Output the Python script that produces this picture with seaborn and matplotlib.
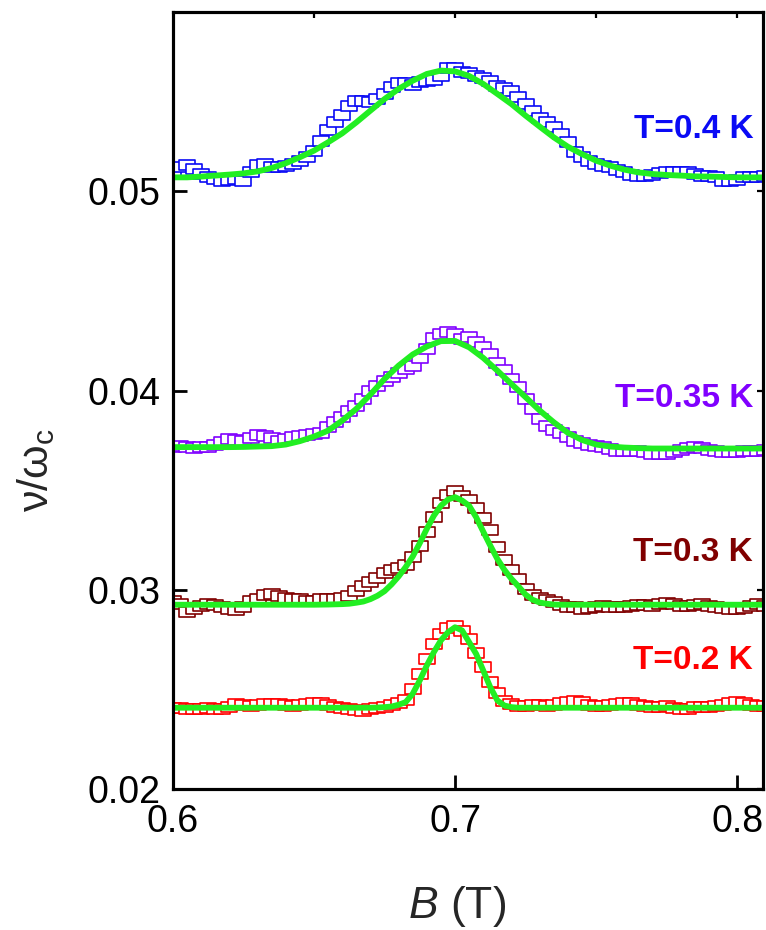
import numpy as np
import pandas as pd
import matplotlib
matplotlib.use("Agg")
import matplotlib.pyplot as plt
import seaborn as sns
from matplotlib.path import Path
from matplotlib import font_manager

# ---------------- data ----------------
B_data = np.round(np.linspace(0.600, 0.810, 85), 4)   # 0.0025 T sampling

y_04 = [0.05100, 0.05120, 0.05134, 0.05112, 0.05087, 0.05070, 0.05060, 0.05054, 0.05057, 0.05062,
        0.05054, 0.05095, 0.05134, 0.05137, 0.05124, 0.05124, 0.05129, 0.05137, 0.05151, 0.05171,
        0.05204, 0.05254, 0.05308, 0.05346, 0.05385, 0.05430, 0.05452, 0.05455, 0.05450, 0.05463,
        0.05488, 0.05522, 0.05542, 0.05544, 0.05535, 0.05547, 0.05555, 0.05559, 0.05580, 0.05619,
        0.05619, 0.05597,
        0.05592, 0.05580, 0.05569, 0.05552, 0.05529, 0.05519, 0.05505, 0.05475, 0.05438, 0.05405,
        0.05368, 0.05346, 0.05325, 0.05288, 0.05246, 0.05196, 0.05171, 0.05154, 0.05137, 0.05129,
        0.05120, 0.05107, 0.05095, 0.05084, 0.05079, 0.05079, 0.05084, 0.05090, 0.05095, 0.05095,
        0.05095, 0.05095, 0.05087, 0.05079, 0.05079, 0.05074, 0.05054, 0.05051, 0.05057, 0.05070,
        0.05070, 0.05074, 0.05079]

y_035 = [0.03716, 0.03722, 0.03719, 0.03712, 0.03716, 0.03719, 0.03729, 0.03741, 0.03757, 0.03752,
         0.03749, 0.03762, 0.03779, 0.03774, 0.03762, 0.03749, 0.03757, 0.03769, 0.03774, 0.03779,
         0.03783, 0.03786, 0.03816, 0.03841, 0.03869, 0.03896, 0.03920, 0.03958, 0.03997, 0.04025,
         0.04050, 0.04070, 0.04087, 0.04109, 0.04125, 0.04164, 0.04209, 0.04264, 0.04284, 0.04293,
         0.04284, 0.04259,
         0.04268, 0.04243, 0.04217, 0.04181, 0.04137, 0.04104, 0.04059, 0.04017, 0.03958, 0.03908,
         0.03858, 0.03824, 0.03803, 0.03786, 0.03769, 0.03749, 0.03736, 0.03729, 0.03724, 0.03719,
         0.03707, 0.03699, 0.03699, 0.03699, 0.03696, 0.03691, 0.03682, 0.03679, 0.03682, 0.03691,
         0.03702, 0.03712, 0.03716, 0.03711, 0.03702, 0.03696, 0.03691, 0.03691, 0.03691, 0.03696,
         0.03699, 0.03699, 0.03702]

y_03 = [0.02946, 0.02930, 0.02888, 0.02905, 0.02921, 0.02930, 0.02926, 0.02916, 0.02905, 0.02896,
        0.02913, 0.02943, 0.02955, 0.02976, 0.02980, 0.02971, 0.02960, 0.02955, 0.02955, 0.02943,
        0.02943, 0.02955, 0.02955, 0.02955, 0.02960, 0.02971, 0.02993, 0.03017, 0.03038, 0.03060,
        0.03083, 0.03100, 0.03110, 0.03126, 0.03167, 0.03222, 0.03289, 0.03364, 0.03435, 0.03478,
        0.03495, 0.03473,
        0.03451, 0.03411, 0.03361, 0.03298, 0.03217, 0.03147, 0.03097, 0.03055, 0.03005, 0.02976,
        0.02960, 0.02950, 0.02938, 0.02926, 0.02916, 0.02913, 0.02904, 0.02909, 0.02916, 0.02921,
        0.02916, 0.02913, 0.02913, 0.02921, 0.02926, 0.02926, 0.02921, 0.02930, 0.02933, 0.02930,
        0.02921, 0.02921, 0.02926, 0.02930, 0.02921, 0.02913, 0.02909, 0.02904, 0.02904, 0.02909,
        0.02921, 0.02930, 0.02921]

y_02 = [0.02408, 0.02408, 0.02403, 0.02401, 0.02403, 0.02408, 0.02404, 0.02404, 0.02411, 0.02428,
        0.02424, 0.02419, 0.02424, 0.02428, 0.02428, 0.02428, 0.02423, 0.02419, 0.02424, 0.02428,
        0.02431, 0.02434, 0.02424, 0.02414, 0.02406, 0.02403, 0.02398, 0.02394, 0.02403, 0.02408,
        0.02414, 0.02423, 0.02431, 0.02448, 0.02503, 0.02578, 0.02654, 0.02726, 0.02776, 0.02807,
        0.02816, 0.02792,
        0.02752, 0.02683, 0.02612, 0.02536, 0.02481, 0.02444, 0.02428, 0.02419, 0.02419, 0.02424,
        0.02424, 0.02419, 0.02424, 0.02431, 0.02436, 0.02441, 0.02436, 0.02424, 0.02419, 0.02419,
        0.02423, 0.02428, 0.02434, 0.02431, 0.02424, 0.02419, 0.02414, 0.02414, 0.02419, 0.02408,
        0.02403, 0.02404, 0.02411, 0.02411, 0.02414, 0.02419, 0.02424, 0.02432, 0.02436, 0.02431,
        0.02424, 0.02419, 0.02419]

# fit curves (green)
B_fit_wide = np.round(np.linspace(0.600, 0.810, 43), 4)   # 0.005 T sampling
fit_04 = [0.05070, 0.05070, 0.05074, 0.05079, 0.05084, 0.05090, 0.05100, 0.05117, 0.05141, 0.05171,
          0.05204, 0.05246, 0.05291, 0.05346, 0.05405, 0.05463, 0.05514, 0.05555, 0.05589, 0.05606,
          0.05602, 0.05579, 0.05539, 0.05489, 0.05438, 0.05380, 0.05325, 0.05271, 0.05224, 0.05187,
          0.05154, 0.05129, 0.05109, 0.05095, 0.05087, 0.05082, 0.05079, 0.05075, 0.05074, 0.05072,
          0.05070, 0.05070, 0.05070]
fit_035 = [0.03716, 0.03716, 0.03716, 0.03716, 0.03716, 0.03717, 0.03719, 0.03721, 0.03729, 0.03746,
           0.03769, 0.03799, 0.03849, 0.03908, 0.03980, 0.04058, 0.04125, 0.04181, 0.04221, 0.04248,
           0.04249, 0.04217, 0.04164, 0.04100, 0.04033, 0.03967, 0.03900, 0.03841, 0.03788, 0.03752,
           0.03729, 0.03719, 0.03714, 0.03711, 0.03709, 0.03709, 0.03709, 0.03709, 0.03709, 0.03709,
           0.03709, 0.03709, 0.03709]

B_fit_narrow = [0.600, 0.620, 0.640, 0.650, 0.655, 0.660,
                0.6625, 0.665, 0.6675, 0.670, 0.6725, 0.675, 0.6775, 0.680, 0.6825, 0.685,
                0.6875, 0.690, 0.6925, 0.695, 0.6975, 0.700, 0.7025, 0.705, 0.7075, 0.710,
                0.7125, 0.715, 0.7175, 0.720, 0.7225, 0.725, 0.7275, 0.730, 0.7325, 0.735, 0.7375,
                0.740, 0.745, 0.750, 0.760, 0.780, 0.810]
fit_03 = [0.02925, 0.02925, 0.02925, 0.02925, 0.02926, 0.02928,
          0.02930, 0.02935, 0.02941, 0.02953, 0.02970, 0.02993, 0.03027, 0.03067, 0.03114, 0.03167,
          0.03234, 0.03306, 0.03372, 0.03422, 0.03453, 0.03465, 0.03448, 0.03422, 0.03364, 0.03292,
          0.03222, 0.03155, 0.03100, 0.03055, 0.03017, 0.02976, 0.02950, 0.02936, 0.02930, 0.02926, 0.02925,
          0.02925, 0.02925, 0.02925, 0.02925, 0.02925, 0.02925]
fit_02 = [0.02408, 0.02408, 0.02408, 0.02408, 0.02408, 0.02408,
          0.02408, 0.02408, 0.02408, 0.02408, 0.02409, 0.02411, 0.02414, 0.02423, 0.02436, 0.02478,
          0.02545, 0.02620, 0.02687, 0.02746, 0.02787, 0.02812, 0.02796, 0.02737, 0.02678, 0.02595,
          0.02511, 0.02445, 0.02419, 0.02411, 0.02408, 0.02408, 0.02408, 0.02408, 0.02408, 0.02408, 0.02408,
          0.02408, 0.02408, 0.02408, 0.02408, 0.02408, 0.02408]

series_labels = ["T=0.4 K", "T=0.35 K", "T=0.3 K", "T=0.2 K"]
series_colors = ["#0a0af5", "#8000ff", "#800000", "#ff0000"]
label_y = [0.05312, 0.03960, 0.03185, 0.02645]

x_ticks = [0.6, 0.7, 0.8]
x_ticklabels = ["0.6", "0.7", "0.8"]
y_ticks = [0.02, 0.03, 0.04, 0.05]
y_ticklabels = ["0.02", "0.03", "0.04", "0.05"]

# ---------------- style ----------------
sns.set_theme(style="white")
plt.rcParams['font.family'] = ['Liberation Sans', 'DejaVu Sans']
plt.rcParams['mathtext.fontset'] = 'custom'
plt.rcParams['mathtext.rm'] = 'Liberation Sans'
plt.rcParams['mathtext.it'] = 'Liberation Sans:italic'
plt.rcParams['mathtext.bf'] = 'Liberation Sans:bold'


def has_font(name):
    try:
        font_manager.findfont(font_manager.FontProperties(family=name),
                              fallback_to_default=False)
        return True
    except Exception:
        return False


HAS_NARROW = has_font("Liberation Sans Narrow")
NARROW = "Liberation Sans Narrow" if HAS_NARROW else "Liberation Sans"
TICK_FS = 30 if HAS_NARROW else 27
LAB_FS = 27 if HAS_NARROW else 24

GREEN = "#22ee22"
XLIM = (0.6, 0.8092)
YLIM = (0.02, 0.0590)

fig = plt.figure(figsize=(7.66, 9.30), dpi=100)
ax = fig.add_axes([0.2258, 0.1516, 0.7703, 0.8355])

rect = Path([(-1, -0.68), (1, -0.68), (1, 0.68), (-1, 0.68), (-1, -0.68)],
            [Path.MOVETO, Path.LINETO, Path.LINETO, Path.LINETO, Path.CLOSEPOLY])

data_series = [y_04, y_035, y_03, y_02]
for ys, col in zip(data_series, series_colors):
    df = pd.DataFrame({"B": B_data, "v": ys})
    sns.scatterplot(data=df, x="B", y="v", ax=ax, marker=rect, s=135,
                    facecolor="white", edgecolor=col, linewidth=1.2, zorder=3)
    coll = ax.collections[-1]
    coll.set_facecolor("white")
    coll.set_edgecolor(col)
    coll.set_linewidth(1.2)

fits = [(B_fit_wide, fit_04), (B_fit_wide, fit_035), (B_fit_narrow, fit_03), (B_fit_narrow, fit_02)]
for bx, fy in fits:
    dff = pd.DataFrame({"B": bx, "v": fy})
    sns.lineplot(data=dff, x="B", y="v", ax=ax, color=GREEN, linewidth=4.2,
                 sort=False, estimator=None, zorder=5)

for lab, col, yy in zip(series_labels, series_colors, label_y):
    ax.text(0.8057, yy, lab, color=col, fontsize=LAB_FS, fontweight="bold",
            family=[NARROW, "DejaVu Sans"], ha="right", va="center", zorder=6)

ax.set_xlim(*XLIM)
ax.set_ylim(*YLIM)
ax.set_xticks(x_ticks)
ax.set_xticklabels(x_ticklabels)
ax.set_yticks(y_ticks)
ax.set_yticklabels(y_ticklabels)
ax.set_xlabel("")
ax.set_ylabel("")
ax.tick_params(axis="both", which="major", direction="in", length=10, width=2,
               color="black", labelcolor="black", labelsize=TICK_FS,
               left=True, bottom=True, right=False, top=False)
ax.tick_params(axis="x", pad=11)
ax.tick_params(axis="y", pad=9)
for lbl in ax.get_xticklabels() + ax.get_yticklabels():
    lbl.set_family([NARROW, "DejaVu Sans"])
for sp in ax.spines.values():
    sp.set_visible(True)
    sp.set_color("black")
    sp.set_linewidth(2.2)

# short ticks on right and top
axr = ax.twinx()
axr.set_ylim(*YLIM)
axr.set_yticks(y_ticks)
axr.tick_params(axis="y", direction="in", length=4, width=1.6, color="black",
                labelright=False, right=True)
axt = ax.twiny()
axt.set_xlim(*XLIM)
axt.set_xticks([0.65, 0.7, 0.75, 0.8])
axt.tick_params(axis="x", direction="in", length=4, width=1.6, color="black",
                labeltop=False, top=True)
for a in (axr, axt):
    for sp in a.spines.values():
        sp.set_color("black")
        sp.set_linewidth(2.2)
    a.grid(False)
ax.grid(False)

fig.text(457 / 766, 1 - 918 / 930, r"$B$ (T)", fontsize=32, ha="center", va="baseline")
fig.text(36 / 766, 1 - 470 / 930, r"ν/ω$_\mathrm{c}$", fontsize=31, rotation=90,
         ha="center", va="center")

fig.savefig("out.png", dpi=100)
